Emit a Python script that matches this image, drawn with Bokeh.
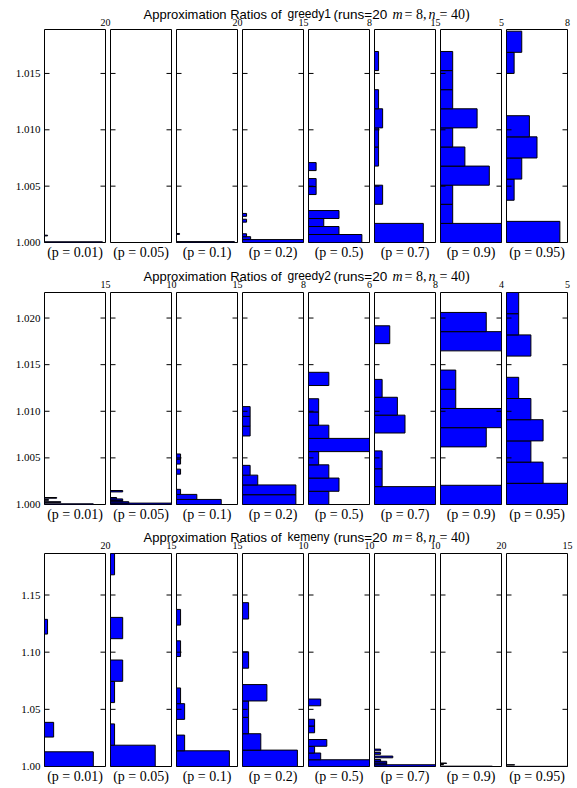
import numpy as np
from bokeh.plotting import figure
from bokeh.models import Range1d, LinearAxis, FixedTicker, PrintfTickFormatter, ColumnDataSource
from bokeh.layouts import column, row
from bokeh.embed import file_html
from bokeh.resources import INLINE
from bokeh.core.properties import value

# ---------------- data ----------------
p_labels = ["(p = 0.01)", "(p = 0.05)", "(p = 0.1)", "(p = 0.2)",
            "(p = 0.5)", "(p = 0.7)", "(p = 0.9)", "(p = 0.95)"]
algorithms = ["greedy1", "greedy2", "kemeny"]

# histogram counts (10 bins each, from lowest bin upward); empty list = no data
counts_greedy1 = [
    [19, 0, 0, 0, 0, 0, 0, 0, 0, 1],
    [],
    [19, 0, 0, 0, 0, 0, 0, 0, 0, 1],
    [15, 2, 1, 0, 0, 0, 0, 1, 0, 1],
    [7, 4, 2, 4, 0, 0, 1, 1, 0, 1],
    [12, 0, 2, 0, 1, 1, 2, 1, 0, 1],
    [5, 1, 1, 4, 2, 1, 3, 1, 1, 1],
    [7, 0, 1, 2, 4, 3, 0, 0, 1, 2],
]
max_greedy1 = [1.00065, None, 1.0008, 1.00258, 1.00709, 1.01695, 1.01695, 1.01875]
xmax_greedy1 = [20, None, 20, 15, 8, 15, 5, 8]
ylim_greedy1 = (1.0, 1.0189)
yticks_greedy1 = [1.000, 1.005, 1.010, 1.015]

counts_greedy2 = [
    [12, 0, 0, 4, 0, 0, 1, 0, 0, 3],
    [10, 3, 2, 2, 1, 0, 0, 0, 0, 2],
    [11, 5, 1, 0, 0, 0, 1, 0, 1, 1],
    [7, 7, 2, 1, 0, 0, 0, 1, 1, 1],
    [2, 3, 2, 1, 6, 2, 1, 1, 0, 2],
    [8, 1, 1, 0, 4, 3, 1, 0, 0, 2],
    [4, 0, 0, 3, 4, 1, 1, 0, 4, 3],
    [5, 3, 2, 3, 2, 1, 0, 2, 1, 1],
]
max_greedy2 = [1.00075, 1.0015, 1.00542, 1.0105, 1.01418, 1.01917, 1.0206, 1.02274]
xmax_greedy2 = [15, 10, 15, 8, 6, 8, 4, 5]
ylim_greedy2 = (1.0, 1.02274)
yticks_greedy2 = [1.000, 1.005, 1.010, 1.015, 1.020]

counts_kemeny = [
    [16, 0, 3, 0, 0, 0, 0, 0, 0, 1],
    [11, 1, 0, 1, 3, 0, 3, 0, 0, 1],
    [13, 2, 0, 2, 1, 0, 0, 1, 0, 1],
    [9, 3, 1, 1, 4, 0, 1, 0, 0, 1],
    [10, 2, 1, 3, 0, 1, 1, 0, 0, 2],
    [10, 2, 2, 1, 0, 3, 0, 1, 0, 1],
    [17, 0, 0, 0, 0, 1, 0, 0, 0, 2],
    [18, 0, 0, 0, 0, 0, 0, 0, 0, 2],
]
max_kemeny = [1.1287, 1.1863, 1.1374, 1.1433, 1.059, 1.0152, 1.003, 1.0015]
xmax_kemeny = [20, 15, 15, 10, 10, 10, 20, 15]
ylim_kemeny = (1.0, 1.1863)
yticks_kemeny = [1.00, 1.05, 1.10, 1.15]

ratio_min = 1.0
n_bins = 10

# ---------------- styling / layout ----------------
SERIF = "Liberation Serif"
SANS = "Liberation Sans"
FRAME_W = 61
FIRST_LEFT = 44
PANEL_W = 66
ROW_W = FIRST_LEFT + FRAME_W + 3 + 7 * PANEL_W
STRIP_W = ROW_W + 6
# right edge of each panel's frame, in row pixels (where the count-axis maximum is written)
frame_right = [FIRST_LEFT + FRAME_W] + [FIRST_LEFT + FRAME_W + 3 + i * PANEL_W + 2 + FRAME_W
                                        for i in range(7)]


def make_panel(counts, dmax, xmax, ylim, yticks, yfmt, plabel, first, frame_h, bottom_b):
    left_b = FIRST_LEFT if first else 2
    xr_end = xmax if xmax else 1
    p = figure(width=left_b + FRAME_W + 3, height=1 + frame_h + bottom_b,
               x_range=Range1d(0, xr_end), y_range=Range1d(*ylim),
               min_border_left=left_b, min_border_right=3, min_border_top=1,
               min_border_bottom=bottom_b, x_axis_location=None, y_axis_location=None,
               output_backend="svg", toolbar_location=None)
    p.border_fill_color = "white"
    p.background_fill_color = "white"
    p.outline_line_color = "black"
    p.outline_line_width = 1
    p.grid.grid_line_color = None

    common = dict(axis_line_color=None, major_tick_in=0, major_tick_out=0,
                  minor_tick_in=0, minor_tick_out=0)
    if first:
        la = LinearAxis(ticker=FixedTicker(ticks=yticks), formatter=PrintfTickFormatter(format=yfmt),
                        major_label_standoff=4, major_label_text_font=SERIF,
                        major_label_text_font_size="11px", major_label_text_color="black", **common)
        p.add_layout(la, "left")
    ba = LinearAxis(ticker=FixedTicker(ticks=[]), axis_label=plabel,
                    axis_label_standoff=2, axis_label_text_font=SERIF,
                    axis_label_text_font_size="14px", axis_label_text_font_style="normal",
                    axis_label_text_color="black", **common)
    p.add_layout(ba, "below")

    if counts:
        edges = np.linspace(ratio_min, dmax, n_bins + 1)
        src = ColumnDataSource(dict(bottom=edges[:-1], top=edges[1:], right=counts))
        p.quad(left=0, right="right", bottom="bottom", top="top", source=src,
               fill_color="#0000ff", line_color="black", line_width=1)

    # inward tick marks on both sides of every panel (clipped to the frame)
    p.scatter(x=[0] * len(yticks), y=yticks, marker="dash", size=10,
              line_color="black", line_width=1)
    p.scatter(x=[xr_end] * len(yticks), y=yticks, marker="dash", size=10,
              line_color="black", line_width=1)
    return p


def make_title(alg, xmaxes, h, title_mid, label_mid):
    t = figure(width=STRIP_W, height=h, x_range=Range1d(0, STRIP_W), y_range=Range1d(0, h),
               min_border=0, x_axis_location=None, y_axis_location=None,
               output_backend="svg", toolbar_location=None)
    t.outline_line_color = None
    t.grid.grid_line_color = None
    t.border_fill_color = "white"
    t.background_fill_color = "white"
    b = h - title_mid
    kw = dict(text_baseline="middle", text_align="left", text_color="black")
    t.text(x=[143], y=[b], text=["Approximation Ratios of"], text_font=value(SANS),
           text_font_size="13px", **kw)
    t.text(x=[287], y=[b], text=[alg], text_font=value(SANS), text_font_size="12px", **kw)
    t.text(x=[333], y=[b], text=["(runs=20"], text_font=value(SANS),
           text_font_size="13.5px", **kw)
    t.text(x=[392, 428], y=[b, b], text=["m", "n"], text_font=value(SERIF),
           text_font_style="italic", text_font_size="14px", **kw)
    t.text(x=[404, 439], y=[b, b], text=["= 8,", "= 40)"], text_font=value(SERIF),
           text_font_size="14px", **kw)
    # maximum of each panel's count axis, written above the panel's top-right corner
    lx = [frame_right[i] for i in range(8) if xmaxes[i]]
    lt = [str(xmaxes[i]) for i in range(8) if xmaxes[i]]
    lb = h - label_mid
    t.text(x=lx, y=[lb] * len(lx), text=lt, text_font=value(SERIF), text_font_size="10px",
           text_baseline="middle", text_align="center", text_color="black")
    return t


rows_spec = [
    # name, counts, maxima, x limits, y limits, y ticks, fmt
    ("greedy1", counts_greedy1, max_greedy1, xmax_greedy1, ylim_greedy1, yticks_greedy1, "%.3f"),
    ("greedy2", counts_greedy2, max_greedy2, xmax_greedy2, ylim_greedy2, yticks_greedy2, "%.3f"),
    ("kemeny", counts_kemeny, max_kemeny, xmax_kemeny, ylim_kemeny, yticks_kemeny, "%.2f"),
]
# layout (pixels): strip height, title centre, label centre (from strip top), frame height, bottom border
geom = [(28, 13.5, 21.5, 213, 24), (25, 9.5, 17.5, 212, 23), (25, 9.5, 17.5, 213, 20)]

children = []
for (alg, cnts, dmaxes, xmaxes, ylim, yticks, yfmt), (th, tm, lm, fh, bb) in zip(rows_spec, geom):
    children.append(make_title(alg, xmaxes, th, tm, lm))
    panels = [make_panel(cnts[i], dmaxes[i], xmaxes[i], ylim, yticks, yfmt, p_labels[i],
                         i == 0, fh, bb) for i in range(8)]
    children.append(row(*panels))

layout = column(*children)
open("out.html", "w").write(file_html(layout, INLINE))
